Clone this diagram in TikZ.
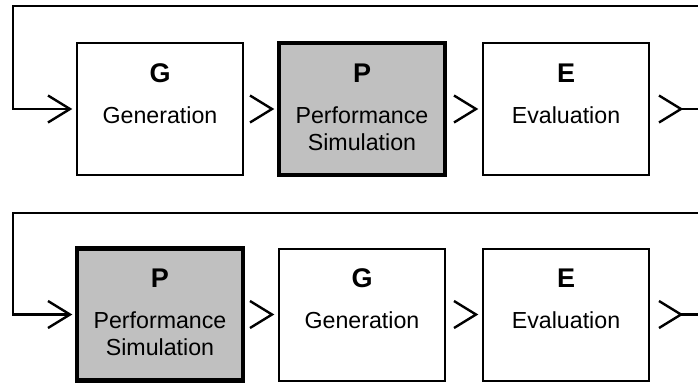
\documentclass[tikz,border=0pt]{standalone}
\usepackage{fontspec}
\setmainfont{Liberation Sans}
\usetikzlibrary{calc}
\definecolor{boxgray}{RGB}{192,192,192}
\begin{document}
\begin{tikzpicture}[x=1pt,y=-1pt,
  stage/.style={draw=black, line width=2pt, fill=white, minimum width=166pt, minimum height=132pt, inner sep=0pt, outer sep=0pt},
  perf/.style={stage, fill=boxgray, line width=4.5pt},
  letter/.style={font=\fontsize{27}{27}\selectfont\bfseries, anchor=base, inner sep=0pt},
  word/.style={font=\fontsize{23.2}{27}\selectfont, anchor=base, inner sep=0pt},
  loopline/.style={line width=2.2pt, line join=miter},
  chev/.style={line width=2.4pt, line join=miter}]
\useasboundingbox (0,0) rectangle (698,383);
% ---------- top row ----------
\node[stage] (g1) at (160,109) {};
\node[perf]  (p1) at (362,109) {};
\node[stage] (e1) at (566,109) {};
\node[letter] (g1l) at ($(g1.north)+(0,39)$) {G};
\node[word]   (g1w) at ($(g1.north)+(0,80)$) {Generation};
\node[letter] (p1l) at ($(p1.north)+(0,39)$) {P};
\node[word]   (p1w) at ($(p1.north)+(0,80)$) {Performance};
\node[word]   (p1v) at ($(p1.north)+(0,107)$) {Simulation};
\node[letter] (e1l) at ($(e1.north)+(0,39)$) {E};
\node[word]   (e1w) at ($(e1.north)+(0,80)$) {Evaluation};
% connectors
\coordinate (in1) at ($(g1.west)+(-7,0)$);
\coordinate (gp1) at ($(p1.west)+(-7,0)$);
\coordinate (pe1) at ($(e1.west)+(-7,0)$);
\coordinate (out1) at ($(e1.east)+(32,0)$);
\coordinate (c1a) at (13,6);
\coordinate (c1b) at (698,6);
\coordinate (c1c) at (698,109);
\draw[loopline] (c1b) -- (c1a) |- (in1);
\draw[loopline] (out1) -- (c1c);
\foreach \t in {in1,gp1,pe1,out1}
  \draw[chev] ($(\t)+(-22,-13.5)$) -- (\t) -- ($(\t)+(-22,13.5)$);
% ---------- bottom row ----------
\node[perf]  (p2) at (160,314.5) {};
\node[stage] (g2) at (362,314.5) {};
\node[stage] (e2) at (566,314.5) {};
\node[letter] (p2l) at ($(p2.north)+(0,39)$) {P};
\node[word]   (p2w) at ($(p2.north)+(0,80)$) {Performance};
\node[word]   (p2v) at ($(p2.north)+(0,107)$) {Simulation};
\node[letter] (g2l) at ($(g2.north)+(0,39)$) {G};
\node[word]   (g2w) at ($(g2.north)+(0,80)$) {Generation};
\node[letter] (e2l) at ($(e2.north)+(0,39)$) {E};
\node[word]   (e2w) at ($(e2.north)+(0,80)$) {Evaluation};
\coordinate (in2) at ($(p2.west)+(-7,0)$);
\coordinate (pg2) at ($(g2.west)+(-7,0)$);
\coordinate (ge2) at ($(e2.west)+(-7,0)$);
\coordinate (out2) at ($(e2.east)+(32,0)$);
\coordinate (c2a) at (13,213);
\coordinate (c2b) at (698,213);
\coordinate (c2c) at (698,314.5);
\draw[loopline] (c2b) -- (c2a) |- (in2);
\draw[loopline] (out2) -- (c2c);
\foreach \t in {in2,pg2,ge2,out2}
  \draw[chev] ($(\t)+(-22,-13.5)$) -- (\t) -- ($(\t)+(-22,13.5)$);
\end{tikzpicture}
\end{document}
